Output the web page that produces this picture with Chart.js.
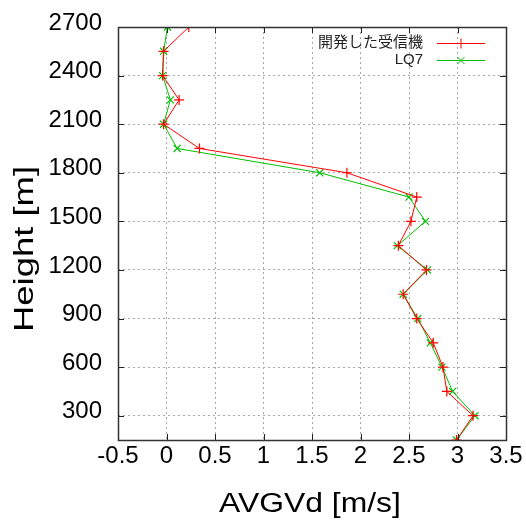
<!DOCTYPE html>
<html><head><meta charset="utf-8">
<script src="https://cdn.jsdelivr.net/npm/chart.js@4/dist/chart.umd.min.js"></script>
<style>html,body{margin:0;padding:0;background:#fff;overflow:hidden}</style>
</head><body>
<canvas id="c" width="526" height="520"></canvas>
<script>
const heights = [150,300,450,600,750,900,1050,1200,1350,1500,1650,1800,1950,2100,2250,2400,2550,2700];
const receiverValues = [2.99,3.16,2.89,2.85,2.75,2.58,2.44,2.68,2.39,2.52,2.58,1.86,0.34,-0.03,0.13,-0.04,-0.03,0.23];
const lq7Values = [2.99,3.18,2.95,2.84,2.72,2.59,2.44,2.69,2.38,2.67,2.50,1.58,0.11,-0.03,0.04,-0.04,-0.03,0.01];
const xTicks = [-0.5,0,0.5,1,1.5,2,2.5,3,3.5];
const yTicks = [300,600,900,1200,1500,1800,2100,2400,2700];
const seriesNames = ['開発した受信機','LQ7'];
const xTitle = 'AVGVd [m/s]';
const yTitle = 'Height [m]';

const FONT = "'Liberation Sans', Arial, 'Noto Sans CJK JP', sans-serif";
const toPoints = vals => vals.map((v,i)=>({x:v,y:heights[i]}));

function stretchedText(ctx, text, cx, by, rot, stretch){
  ctx.save();
  ctx.translate(cx, by);
  ctx.rotate(rot);
  ctx.scale(stretch, 1);
  ctx.textAlign = 'center'; ctx.textBaseline = 'alphabetic';
  ctx.fillText(text, 0, 0);
  ctx.restore();
}

const framePlugin = {
  id:'frame',
  afterDraw(chart){
    const {ctx, chartArea:a, scales:{x,y}} = chart;
    ctx.save();
    // inner tick marks
    ctx.strokeStyle = '#222'; ctx.lineWidth = 1;
    const L = 6;
    ctx.beginPath();
    xTicks.forEach(v=>{
      const px = Math.round(x.getPixelForValue(v))+0.5;
      ctx.moveTo(px,a.bottom); ctx.lineTo(px,a.bottom-L);
      ctx.moveTo(px,a.top); ctx.lineTo(px,a.top+L);
    });
    yTicks.forEach(v=>{
      const py = Math.round(y.getPixelForValue(v))+0.5;
      ctx.moveTo(a.left,py); ctx.lineTo(a.left+L,py);
      ctx.moveTo(a.right,py); ctx.lineTo(a.right-L,py);
    });
    ctx.stroke();
    // border
    ctx.strokeStyle = '#333'; ctx.lineWidth = 1.5;
    ctx.strokeRect(Math.round(a.left)+0.5, Math.round(a.top)+0.5, Math.round(a.right-a.left), Math.round(a.bottom-a.top));
    // legend
    ctx.font = `15px ${FONT}`;
    ctx.textAlign = 'right'; ctx.textBaseline = 'middle';
    chart.data.datasets.forEach((ds,i)=>{
      const ry = a.top + 16 + i*17;
      ctx.fillStyle = '#222';
      ctx.fillText(ds.label, a.right-83, ry);
      ctx.strokeStyle = ds.borderColor; ctx.lineWidth = 1;
      ctx.beginPath(); ctx.moveTo(a.right-69, ry+0.5); ctx.lineTo(a.right-21, ry+0.5); ctx.stroke();
      Chart.helpers.drawPoint(ctx, {pointStyle: ds.pointStyle, radius: ds.pointRadius, rotation:0, borderWidth:1}, a.right-45, ry+0.5);
    });
    // axis titles
    ctx.fillStyle = '#000';
    ctx.font = `27px ${FONT}`;
    stretchedText(ctx, xTitle, 310, 512, 0, 1.18);
    stretchedText(ctx, yTitle, 33, 249, -Math.PI/2, 1.35);
    ctx.restore();
  }
};

new Chart(document.getElementById('c'), {
  type:'scatter',
  data:{
    datasets:[
      {label:seriesNames[0], data:toPoints(receiverValues), showLine:true, borderColor:'#ff0000', backgroundColor:'#ff0000', borderWidth:1, pointStyle:'cross', pointRadius:5, pointBorderWidth:1.2},
      {label:seriesNames[1], data:toPoints(lq7Values), showLine:true, borderColor:'#00c000', backgroundColor:'#00c000', borderWidth:1, pointStyle:'crossRot', pointRadius:5, pointBorderWidth:1.2}
    ]
  },
  options:{
    responsive:false, animation:false, devicePixelRatio:1,
    layout:{padding:{top:27,right:20,left:0,bottom:0}},
    plugins:{legend:{display:false}, tooltip:{enabled:false}},
    scales:{
      x:{
        type:'linear', min:-0.5, max:3.5,
        afterBuildTicks: s => { s.ticks = xTicks.map(v=>({value:v})); },
        afterFit: s => { s.height = 80; s.paddingLeft = 0; s.paddingRight = 0; },
        grid:{color:'#a8a8a8', drawTicks:false, lineWidth:1},
        border:{display:false, dash:[2,3]},
        ticks:{color:'#000', font:{family:FONT, size:24}, padding:2, maxRotation:0, autoSkip:false, callback:v=>String(v)},
        title:{display:false, text:xTitle}
      },
      y:{
        type:'linear', min:150, max:2700,
        afterBuildTicks: s => { s.ticks = yTicks.map(v=>({value:v})); },
        afterFit: s => { s.width = 118; s.paddingTop = 0; s.paddingBottom = 0; },
        grid:{color:'#a8a8a8', drawTicks:false, lineWidth:1},
        border:{display:false, dash:[2,3]},
        ticks:{color:'#000', font:{family:FONT, size:24}, padding:16, labelOffset:-4, autoSkip:false, callback:v=>String(v)},
        title:{display:false, text:yTitle}
      }
    }
  },
  plugins:[framePlugin]
});
</script>
</body></html>
